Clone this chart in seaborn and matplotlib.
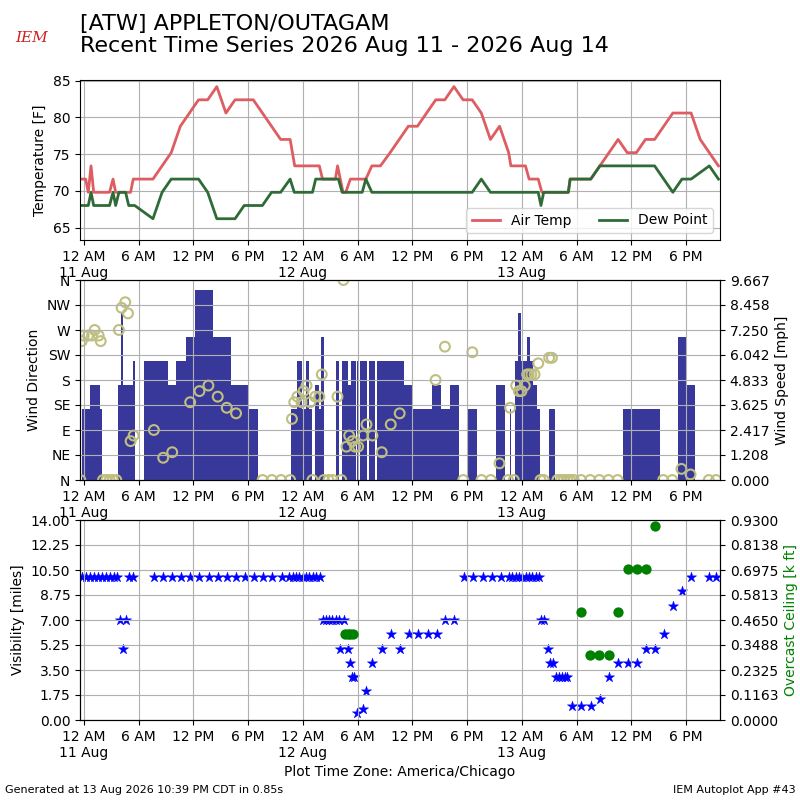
import numpy as np
import pandas as pd
import matplotlib
matplotlib.use("Agg")
import matplotlib.pyplot as plt
import seaborn as sns

# ---------------- data (hours after 11 Aug 00:00 America/Chicago) ----------------
temp_h = [-0.44, 0.18, 0.47, 0.77, 1.06, 1.56, 2.56, 2.8, 3.18, 3.47, 4.56, 5.1, 5.4,
          6.56, 7.56, 8.56, 9.56, 10.56, 11.56, 12.56, 13.56, 14.56, 15.56, 16.56,
          17.56, 18.56, 19.56, 20.56, 21.56, 22.6, 23.1, 23.56, 24.56, 25.56, 25.8,
          26.15, 26.56, 27.56, 27.8, 28.4, 28.7, 29.2, 29.56, 30.56, 30.9, 31.56, 32.5,
          33.56, 34.56, 35.56, 36.56, 37.56, 38.56, 39.56, 40.56, 41.56, 42.56, 43.56,
          44.56, 45.56, 46.56, 46.8, 47.56, 48.4, 48.8, 49.56, 49.8, 50.2, 50.56, 51.56,
          52.56, 53.1, 53.3, 54.56, 55.56, 56.56, 57.56, 58.56, 59.56, 60.56, 61.56,
          62.56, 63.56, 64.56, 65.56, 66.56, 67.56, 68.56, 69.56]
temp_f = [71.6, 71.6, 69.8, 73.4, 69.8, 69.8, 69.8, 69.8, 71.6, 69.8, 69.8, 69.8, 71.6,
          71.6, 71.6, 73.4, 75.2, 78.8, 80.6, 82.4, 82.4, 84.2, 80.6, 82.4,
          82.4, 82.4, 80.6, 78.8, 77.0, 77.0, 73.4, 73.4, 73.4, 73.4, 73.4,
          71.6, 71.6, 71.6, 73.4, 69.8, 69.8, 71.6, 71.6, 71.6, 71.6, 73.4, 73.4,
          75.2, 77.0, 78.8, 78.8, 80.6, 82.4, 82.4, 84.2, 82.4, 82.4, 80.6,
          77.0, 78.8, 75.2, 73.4, 73.4, 73.4, 71.6, 71.6, 71.6, 69.8, 69.8, 69.8,
          69.8, 69.8, 71.6, 71.6, 71.6, 73.4, 75.2, 77.0, 75.2, 75.2, 77.0,
          77.0, 78.8, 80.6, 80.6, 80.6, 77.0, 75.2, 73.4]

dewp_h = [-0.44, 0.47, 0.77, 1.06, 2.8, 3.18, 3.47, 3.83, 4.56, 4.9, 5.56, 7.56, 8.56,
          9.56, 10.56, 11.56, 12.56, 13.56, 14.56, 15.56, 16.56, 17.56, 18.56, 19.56,
          20.56, 21.56, 22.6, 23.05, 24.56, 25.05, 25.4, 26.56, 27.56, 27.9, 28.3,
          29.56, 30.5, 30.9, 31.56, 32.56, 33.56, 34.56, 35.56, 36.56, 37.56, 38.56,
          39.56, 40.56, 41.56, 42.56, 43.56, 44.56, 45.56, 46.56, 47.56, 48.56, 49.56,
          49.8, 50.1, 50.4, 51.56, 52.56, 53.1, 53.3, 54.56, 55.56, 56.56, 57.56,
          58.56, 59.56, 60.56, 61.56, 62.56, 63.56, 64.56, 65.56, 66.56, 68.56, 69.56]
dewp_f = [68.0, 68.0, 69.8, 68.0, 68.0, 69.8, 68.0, 69.8, 69.8, 68.0, 68.0, 66.2, 69.8,
          71.6, 71.6, 71.6, 71.6, 69.8, 66.2, 66.2, 66.2, 68.0, 68.0, 68.0,
          69.8, 69.8, 71.6, 69.8, 69.8, 69.8, 71.6, 71.6, 71.6, 71.6, 69.8,
          69.8, 69.8, 71.6, 69.8, 69.8, 69.8, 69.8, 69.8, 69.8, 69.8, 69.8,
          69.8, 69.8, 69.8, 69.8, 71.6, 69.8, 69.8, 69.8, 69.8, 69.8, 69.8,
          69.8, 68.0, 69.8, 69.8, 69.8, 69.8, 71.6, 71.6, 71.6, 73.4, 73.4,
          73.4, 73.4, 73.4, 73.4, 73.4, 71.6, 69.8, 71.6, 71.6, 73.4, 71.6]

# wind speed: start of each reporting interval and speed in knots
wind_edge_h = [-0.25, 0.70, 1.72, 2.01, 3.72, 4.02, 4.31, 5.33, 5.55, 6.53, 9.16, 10.14,
               11.13, 12.22, 14.19, 16.12, 18.13, 19.11, 22.74, 23.30, 23.93, 24.33,
               24.62, 24.99, 25.35, 25.71, 25.97, 26.26, 27.61, 27.98, 28.27, 28.96,
               29.25, 29.80, 29.91, 30.10, 30.27, 31.07, 31.25, 31.91, 32.13, 35.09,
               36.00, 38.12, 39.17, 40.12, 41.10, 42.09, 43.04, 45.16, 46.14, 46.70,
               46.78, 47.23, 47.56, 47.90, 48.56, 48.89, 49.22, 49.65, 49.98, 50.96,
               51.60, 59.05, 63.10, 65.10, 66.00, 67.00, 69.80]
wind_kt = [3, 4, 3, 0, 4, 7, 4, 5, 0, 5, 4, 5,
           6, 8, 6, 4, 3, 0, 3, 5, 3, 5,
           3, 0, 4, 3, 6, 0, 5, 0, 5, 4,
           5, 0, 5, 0, 5, 0, 5, 0, 5, 4,
           3, 4, 3, 4, 0, 3, 0, 4, 0, 3,
           0, 5, 7, 5, 6, 5, 4, 3, 0, 3,
           0, 3, 0, 6, 4, 0]

# wind direction observations (0 = calm)
drct_h = [-0.40, -0.25, -0.03, 0.44, 0.88, 1.17, 1.61, 1.83, 2.08, 2.45, 2.81, 3.18,
          3.54, 3.83, 4.12, 4.52, 4.82, 5.11, 5.44, 7.66, 8.68, 9.67, 11.64, 12.66,
          13.64, 14.66, 15.65, 16.67, 19.58, 20.60, 21.60, 22.60, 22.80, 23.05, 23.40,
          23.85, 24.07, 24.40, 24.80, 25.05, 25.35, 25.80, 26.07, 26.30, 26.80, 27.25,
          27.79, 28.20, 28.44, 28.77, 29.07, 29.43, 29.72, 30.05, 30.60, 30.97, 31.62,
          32.64, 33.63, 34.61, 38.55, 39.57, 41.58, 42.57, 43.58, 44.60, 45.55, 46.50,
          46.72, 47.12, 47.38, 47.67, 47.96, 48.33, 48.58, 48.76, 49.05, 49.40, 49.80,
          50.05, 50.40, 51.00, 51.30, 51.90, 52.30, 52.60, 53.00, 53.30, 53.70, 54.50,
          55.50, 56.50, 57.50, 58.50, 63.50, 64.50, 65.50, 66.50, 68.50, 69.30]
drct_deg = [0, 250, 260, 260, 260, 270, 260, 250, 0, 0, 0, 0,
            0, 270, 310, 320, 300, 70, 80, 90, 40, 50, 140, 160,
            170, 150, 130, 120, 0, 0, 0, 0, 110, 140, 150,
            140, 160, 170, 140, 0, 150, 150, 190, 0, 0, 0,
            150, 0, 360, 60, 80, 70, 60, 60, 80, 100, 80,
            50, 100, 120, 180, 240, 0, 230, 0, 0, 30, 0,
            130, 0, 170, 160, 160, 170, 190, 190, 190, 190, 210,
            0, 0, 220, 220, 0, 0, 0, 0, 0, 0, 0,
            0, 0, 0, 0, 0, 0, 20, 10, 0, 0]

# visibility [miles]
vsby_h = [-0.18, 0.26, 0.70, 1.10, 1.53, 1.97, 2.37, 2.81, 3.25, 3.61, 3.98, 4.27, 4.56,
          4.92, 5.36, 7.66, 8.66, 9.66, 10.66, 11.66, 12.66, 13.66, 14.66, 15.66, 16.66,
          17.66, 18.66, 19.66, 20.66, 21.66, 22.50, 22.87, 23.23, 23.60, 23.96, 24.33,
          24.70, 25.06, 25.43, 25.86, 26.15, 26.50, 26.87, 27.23, 27.60, 27.96, 28.09,
          28.50, 28.93, 29.18, 29.43, 29.60, 29.98, 30.60, 30.96, 31.60, 32.65, 33.70,
          34.60, 35.60, 36.60, 37.70, 38.70, 39.60, 40.60, 41.67, 42.70, 43.70, 44.70,
          45.70, 46.60, 46.97, 47.33, 47.70, 48.06, 48.43, 48.80, 49.16, 49.53, 49.90,
          50.15, 50.40, 50.85, 51.13, 51.42, 51.80, 52.10, 52.40, 52.70, 53.00, 53.50,
          54.50, 55.60, 56.60, 57.60, 58.60, 59.60, 60.60, 61.60, 62.60, 63.60, 64.60,
          65.60, 66.60, 68.50, 69.30]
vsby_mi = [10, 10, 10, 10, 10, 10, 10, 10, 10, 10, 7, 5, 7,
           10, 10, 10, 10, 10, 10, 10, 10, 10, 10, 10, 10,
           10, 10, 10, 10, 10, 10, 10, 10, 10, 10, 10,
           10, 10, 10, 10, 7, 7, 7, 7, 7, 7, 5,
           7, 5, 4, 3, 3, 0.5, 0.75, 2, 4, 5, 6,
           5, 6, 6, 6, 6, 7, 7, 10, 10, 10, 10,
           10, 10, 10, 10, 10, 10, 10, 10, 10, 10, 10,
           7, 7, 5, 4, 4, 3, 3, 3, 3, 3, 1,
           1, 1, 1.5, 3, 4, 4, 4, 5, 5, 6, 8,
           9, 10, 10, 10]

# overcast ceiling [k ft]
ceil_h = [28.65, 28.90, 29.15, 29.45, 54.50, 55.50, 56.50, 57.60, 58.60, 59.60, 60.60,
          61.60, 62.60]
ceil_kft = [0.4, 0.4, 0.4, 0.4, 0.5, 0.3, 0.3, 0.3, 0.5, 0.7, 0.7, 0.7, 0.9]

hour_labels = ["12 AM", "6 AM", "12 PM", "6 PM"]
day_labels = ["11 Aug", "12 Aug", "13 Aug"]
dir_labels = ["N", "NE", "E", "SE", "S", "SW", "W", "NW", "N"]

title = "[ATW] APPLETON/OUTAGAM\nRecent Time Series 2026 Aug 11 - 2026 Aug 14"
footer_left = "Generated at 13 Aug 2026 10:39 PM CDT in 0.85s"
footer_right = "IEM Autoplot App #43"

# ---------------- styling ----------------
KT2MPH = 1.150779
C_TEMP = "#dd5d62"
C_DEWP = "#2e6b36"
C_BAR = "#38389a"
C_DIR = "#bfbf80"
XLIM = (-0.44, 69.73)

fig = plt.figure(figsize=(8, 8), dpi=100)
ax1 = fig.add_axes([0.1, 0.7, 0.8, 0.2])
ax2 = fig.add_axes([0.1, 0.4, 0.8, 0.25])
ax3 = fig.add_axes([0.1, 0.1, 0.8, 0.25])

ticks = np.arange(0, 70, 6)
tlabels = []
for t in ticks:
    lab = hour_labels[(t // 6) % 4]
    if t % 24 == 0:
        lab = lab + "\n" + day_labels[t // 24]
    tlabels.append(lab)

def setx(ax):
    ax.set_xlim(*XLIM)
    ax.set_xticks(ticks)
    ax.set_xticklabels(tlabels, fontsize=10)

# ---- panel 1: temperatures ----
df_t = pd.DataFrame({"h": temp_h, "v": temp_f})
df_d = pd.DataFrame({"h": dewp_h, "v": dewp_f})
sns.lineplot(data=df_t, x="h", y="v", ax=ax1, color=C_TEMP, lw=2, label="Air Temp",
             estimator=None, sort=False)
sns.lineplot(data=df_d, x="h", y="v", ax=ax1, color=C_DEWP, lw=2, label="Dew Point",
             estimator=None, sort=False)
ax1.set_ylim(63.3, 85.1)
ax1.set_yticks([65, 70, 75, 80, 85])
ax1.set_ylabel("Temperature [F]", fontsize=10)
ax1.set_xlabel("")
ax1.grid(True)
setx(ax1)
ax1.legend(loc="lower right", ncol=2, fontsize=10)

# ---- panel 2: wind ----
ax2b = ax2.twinx()
edges = np.array(wind_edge_h)
spd = np.array(wind_kt) * KT2MPH
ax2b.bar(edges[:-1], spd, width=np.diff(edges), align="edge", color=C_BAR,
         edgecolor="none", linewidth=0)
ax2b.set_ylim(0, 8 * KT2MPH * 1.05)
ax2b.set_yticks(np.linspace(0, 8 * KT2MPH * 1.05, 9))
ax2b.yaxis.set_major_formatter(matplotlib.ticker.FormatStrFormatter("%.3f"))
ax2b.set_ylabel("Wind Speed [mph]", fontsize=10)

df_w = pd.DataFrame({"h": drct_h, "d": drct_deg})
sns.scatterplot(data=df_w, x="h", y="d", ax=ax2, marker="o", s=50,
                facecolors="none", edgecolors=C_DIR, linewidths=1.5, legend=False)
ax2.set_zorder(ax2b.get_zorder() + 1)
ax2.patch.set_visible(False)
ax2.set_ylim(0, 360)
ax2.set_yticks(np.arange(0, 361, 45))
ax2.set_yticklabels(dir_labels)
ax2.set_ylabel("Wind Direction", fontsize=10)
ax2.set_xlabel("")
ax2.grid(True)
setx(ax2)
setx(ax2b)

# ---- panel 3: visibility + ceiling ----
ax3b = ax3.twinx()
df_v = pd.DataFrame({"h": vsby_h, "v": vsby_mi})
sns.scatterplot(data=df_v, x="h", y="v", ax=ax3, marker="*", s=60, color="#0000ff",
                edgecolor="#0000ff", linewidth=0.3, legend=False)
ax3.set_ylim(0, 14)
ax3.set_yticks(np.linspace(0, 14, 9))
ax3.yaxis.set_major_formatter(matplotlib.ticker.FormatStrFormatter("%.2f"))
ax3.set_ylabel("Visibility [miles]", fontsize=10)
ax3.grid(True)
setx(ax3)
ax3.set_xlabel("Plot Time Zone: America/Chicago", fontsize=10)

df_c = pd.DataFrame({"h": ceil_h, "c": ceil_kft})
sns.scatterplot(data=df_c, x="h", y="c", ax=ax3b, marker="o", s=55, color="#008000",
                edgecolor="#008000", linewidth=0, legend=False)
ax3b.set_ylim(0, 0.93)
ax3b.set_yticks(np.linspace(0, 0.93, 9))
ax3b.yaxis.set_major_formatter(matplotlib.ticker.FormatStrFormatter("%.4f"))
ax3b.set_ylabel("Overcast Ceiling [k ft]", color="#008000", fontsize=10)
setx(ax3b)

# ---- header / footer ----
fig.text(0.1, 0.982, title, fontsize=16, va="top", ha="left", linespacing=1.12)
fig.text(0.04, 0.952, "IEM", fontsize=11, color="#cc2222", style="italic",
         family="DejaVu Serif", ha="center", va="center")
fig.text(0.006, 0.006, footer_left, fontsize=8, ha="left", va="bottom")
fig.text(0.994, 0.006, footer_right, fontsize=8, ha="right", va="bottom")

fig.savefig("out.png", dpi=100)
